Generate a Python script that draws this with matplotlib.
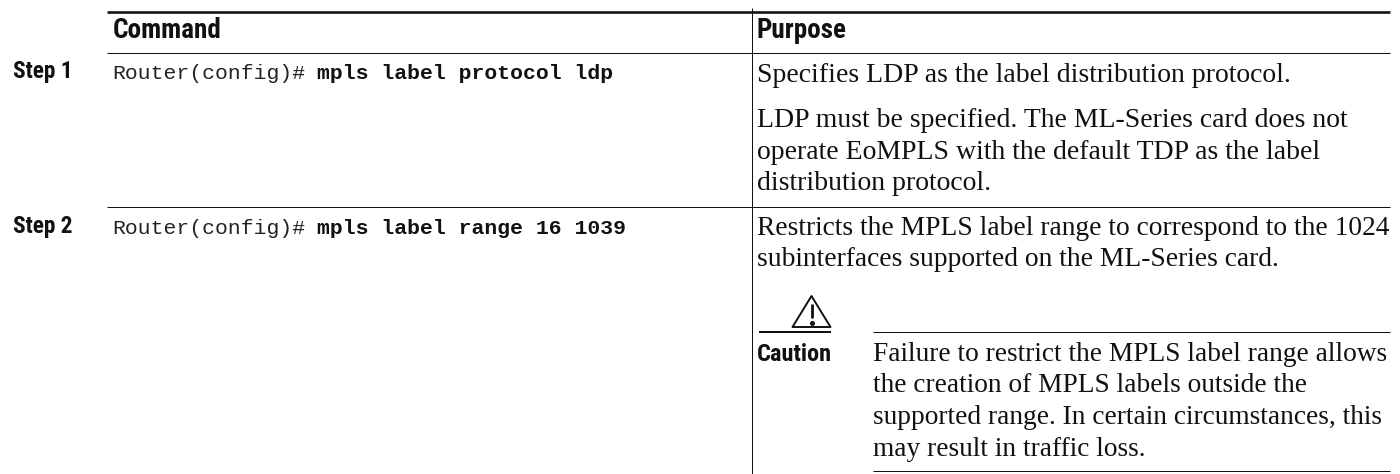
import matplotlib
matplotlib.use("Agg")
import matplotlib.pyplot as plt
from matplotlib.patches import Polygon

headers = ["Command", "Purpose"]
steps = ["Step 1", "Step 2"]
prompt = "Router(config)#"
commands = ["mpls label protocol ldp", "mpls label range 16 1039"]
purpose_1 = ["Specifies LDP as the label distribution protocol.",
             "LDP must be specified. The ML-Series card does not",
             "operate EoMPLS with the default TDP as the label",
             "distribution protocol."]
purpose_2 = ["Restricts the MPLS label range to correspond to the 1024",
             "subinterfaces supported on the ML-Series card."]
caution_label = "Caution"
caution_text = ["Failure to restrict the MPLS label range allows",
                "the creation of MPLS labels outside the",
                "supported range. In certain circumstances, this",
                "may result in traffic loss."]

NARROW = "Roboto Condensed"
MONO = "Liberation Mono"
SERIF = "Liberation Serif"
C = "#111111"

fig = plt.figure(figsize=(14, 4.74), dpi=100)
ax = fig.add_axes([0, 0, 1, 1])
ax.set_xlim(0, 1400)
ax.set_ylim(474, 0)
ax.axis("off")

def hline(x0, x1, y, px=1.0):
    ax.plot([x0, x1], [y, y], color=C, lw=px * 0.72, solid_capstyle="butt")

hline(107, 1390, 11.5, 2.6)
hline(107, 1390, 53, 1.0)
hline(107, 1390, 206.5, 1.0)
ax.plot([752, 752], [8, 474], color=C, lw=0.72, solid_capstyle="butt")
hline(759, 831, 332, 2.0)
hline(873, 1390, 332, 1.0)
hline(873, 1390, 471, 1.0)

ax.text(113, 38, headers[0], family=NARROW, weight="bold", size=19.5, color=C, va="baseline")
ax.text(757, 38, headers[1], family=NARROW, weight="bold", size=19.5, color=C, va="baseline")

for label, prompt_y, cmd in zip(steps, [78, 233], commands):
    ax.text(13, prompt_y, label, family=NARROW, weight="bold", size=16.8, color=C, va="baseline")
    ax.text(112, prompt_y + 1, prompt, family=MONO, size=15.4, color="#222222", va="baseline")
    ax.text(317, prompt_y + 1, cmd, family=MONO, weight="bold", size=15.4, color=C, va="baseline")

for line, y in zip(purpose_1, [82, 127, 159, 190]):
    ax.text(757, y, line, family=SERIF, size=20, color=C, va="baseline")
for line, y in zip(purpose_2, [235, 266]):
    ax.text(757, y, line, family=SERIF, size=19.8, color=C, va="baseline")

ax.add_patch(Polygon([(811.5, 296), (792.5, 327), (830.5, 327)], closed=True, fill=False,
                     edgecolor=C, lw=1.4, joinstyle="round"))
ax.plot([811.5, 811.5], [304, 318], color=C, lw=2.0, solid_capstyle="butt")
ax.plot([811.5], [323], marker="o", ms=2.6, color=C)

ax.text(757, 361, caution_label, family=NARROW, weight="bold", size=17.6, color=C, va="baseline")
for line, y in zip(caution_text, [361, 392, 424, 456]):
    ax.text(873, y, line, family=SERIF, size=19.7, color=C, va="baseline")

fig.savefig("out.png", dpi=100)
